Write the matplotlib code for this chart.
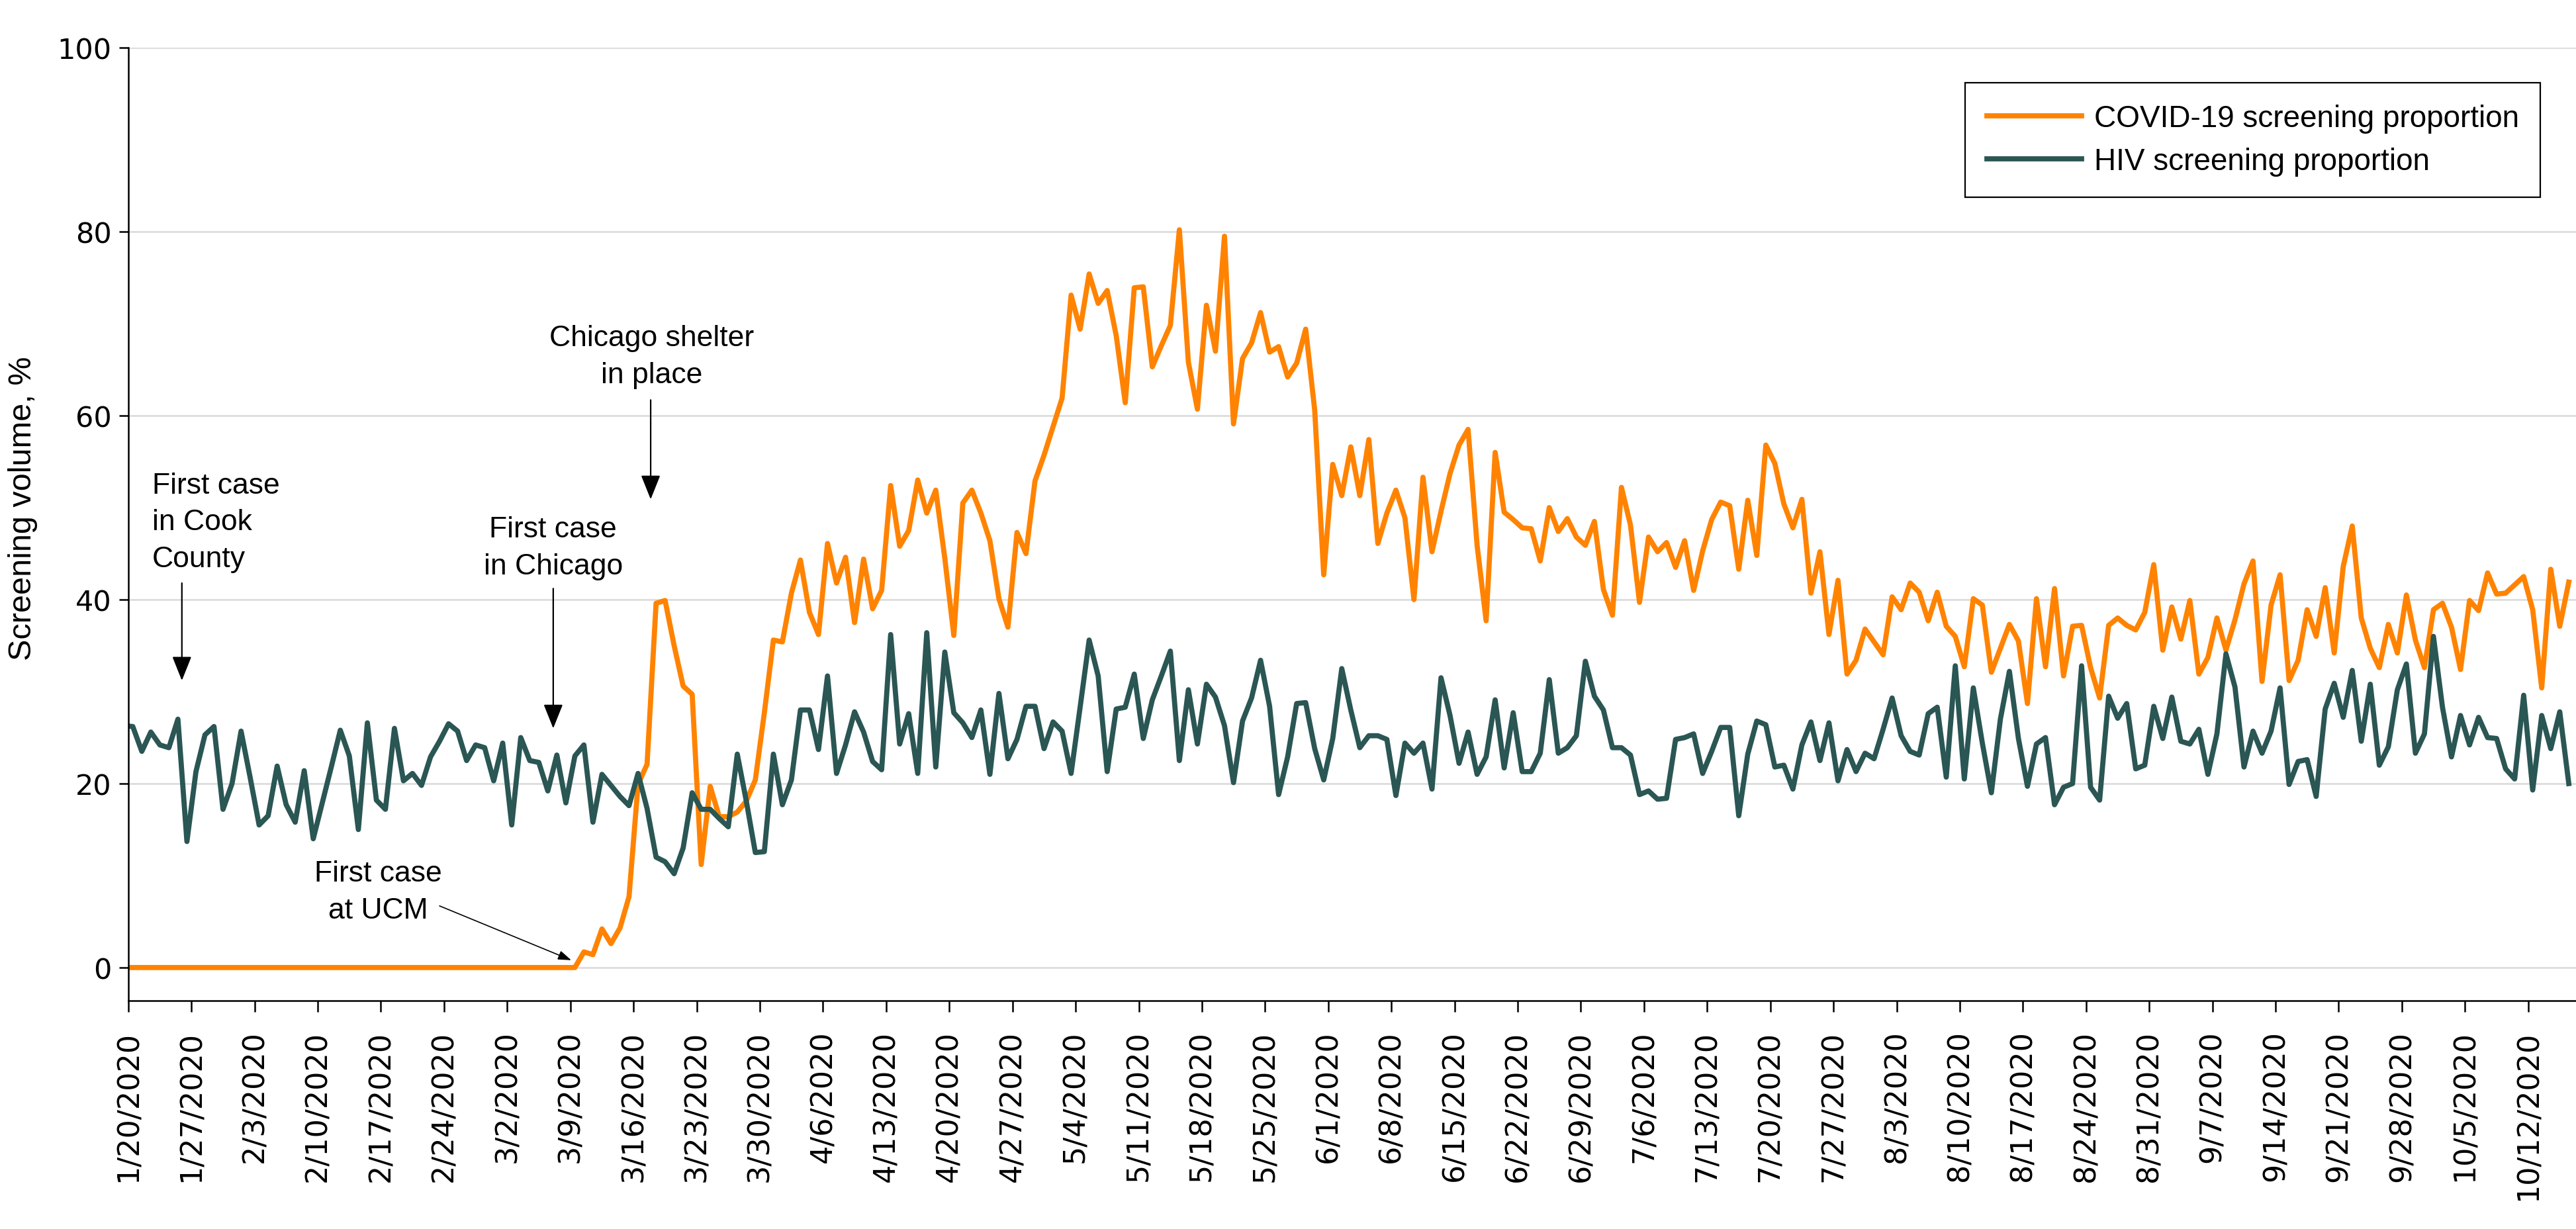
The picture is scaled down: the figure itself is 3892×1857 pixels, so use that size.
import numpy as np
import matplotlib
matplotlib.use("Agg")
import matplotlib.pyplot as plt

plt.rcParams["font.family"] = ["Liberation Sans", "DejaVu Sans"]

# proporcion diaria de cribado (%), un punto por dia; el primero queda
# medio dia antes del eje (recortado), como en la figura original
covid = [
    0.0, 0.0, 0.0, 0.0, 0.0, 0.0, 0.0, 0.0, 0.0, 0.0, 0.0, 0.0, 0.0,
    0.0, 0.0, 0.0, 0.0, 0.0, 0.0, 0.0, 0.0, 0.0, 0.0, 0.0, 0.0, 0.0,
    0.0, 0.0, 0.0, 0.0, 0.0, 0.0, 0.0, 0.0, 0.0, 0.0, 0.0, 0.0, 0.0,
    0.0, 0.0, 0.0, 0.0, 0.0, 0.0, 0.0, 0.0, 0.0, 0.0, 0.0, 0.0,
    1.7, 1.4, 4.2, 2.6, 4.3, 7.7, 19.9, 22.1, 39.6, 39.9, 35.0, 30.6, 29.7,
    11.2, 19.7, 16.4, 16.4, 16.9, 18.1, 20.4, 27.7, 35.6, 35.4, 40.7, 44.3,
    38.6, 36.2, 46.1, 41.8, 44.6, 37.5, 44.4, 39.0, 41.0, 52.4, 45.8, 47.5,
    53.0, 49.4, 51.9, 44.5, 36.1,
    50.5, 51.9, 49.4, 46.4, 40.1, 37.0, 47.3, 45.0, 52.9, 55.7, 58.8, 61.9,
    73.1, 69.4, 75.4, 72.2, 73.6, 68.7, 61.4, 73.9, 74.0, 65.3, 67.6, 69.8,
    80.2, 65.8, 60.7, 72.0, 67.0, 79.5, 59.1, 66.2, 67.9, 71.2, 66.9, 67.5,
    64.2, 65.7, 69.4, 60.6, 42.7, 54.7, 51.3, 56.6, 51.3,
    57.4, 46.1, 49.4, 51.9, 48.9, 40.0, 53.3, 45.2, 49.6, 53.7, 56.8, 58.5,
    45.9, 37.7, 56.0, 49.5, 48.7, 47.8, 47.7, 44.2, 50.0, 47.4, 48.8, 46.8,
    45.9, 48.5, 41.1, 38.3, 52.2, 48.1, 39.7, 46.8, 45.2, 46.2, 43.5, 46.4,
    41.0, 45.3, 48.7, 50.6, 50.2, 43.3, 50.8, 44.8, 56.8, 54.8,
    50.4, 47.8, 50.9, 40.7, 45.2, 36.2, 42.1, 31.9, 33.4, 36.8, 35.4, 34.0,
    40.3, 38.9, 41.8, 40.8, 37.7, 40.8, 37.1, 36.0, 32.7, 40.1, 39.4, 32.1,
    34.7, 37.3, 35.5, 28.7, 40.1, 32.7, 41.2, 31.7, 37.1, 37.2, 32.6, 29.3,
    37.2, 38.0, 37.2, 36.7, 38.6, 43.8, 34.5, 39.2, 35.7,
    39.9, 31.9, 33.7, 38.0, 34.5, 37.8, 41.7, 44.2, 31.1, 39.4, 42.7, 31.2,
    33.4, 38.9, 36.0, 41.3, 34.2, 43.6, 48.0, 38.0, 34.7, 32.6, 37.3, 34.2,
    40.5, 35.6, 32.6, 38.9, 39.6, 37.0, 32.4, 39.9, 38.8, 42.9, 40.6, 40.7,
    41.6, 42.5, 38.9, 30.4, 43.3, 37.1, 41.9,
]

hiv = [
    26.3,
    26.2, 23.5, 25.6, 24.2, 23.9, 27.0, 13.7, 21.3, 25.3, 26.2, 17.2, 20.0,
    25.7, 20.7, 15.5, 16.5, 21.9, 17.7, 15.8, 21.4, 14.0, 17.9, 21.8, 25.8,
    23.0, 15.0, 26.6, 18.2, 17.2, 26.0, 20.3, 21.1, 19.8, 22.9, 24.6, 26.5,
    25.7, 22.5, 24.2, 23.9, 20.3, 24.4, 15.5, 25.0, 22.5, 22.3,
    19.2, 23.1, 17.9, 23.0, 24.2, 15.8, 21.0, 19.8, 18.6, 17.6, 21.1, 17.3,
    12.0, 11.5, 10.2, 13.0, 19.0, 17.2, 17.2, 16.2, 15.3, 23.2, 18.1, 12.5,
    12.6, 23.2, 17.7, 20.4, 28.0, 28.0, 23.7, 31.7, 21.1, 24.2, 27.8, 25.6,
    22.4, 21.5, 36.2, 24.3, 27.6, 21.1, 36.4, 21.8, 34.3, 27.7,
    26.6, 25.0, 28.0, 21.0, 29.8, 22.7, 24.8, 28.4, 28.4, 23.8, 26.7, 25.7,
    21.1, 28.3, 35.6, 31.7, 21.3, 28.1, 28.3, 31.9, 24.9, 29.1, 31.7, 34.4,
    22.5, 30.2, 24.3, 30.8, 29.4, 26.3, 20.1, 26.8, 29.3, 33.4, 28.4, 18.8,
    22.9, 28.7, 28.8, 23.8, 20.4, 24.9, 32.5, 28.0, 23.9,
    25.2, 25.2, 24.8, 18.7, 24.4, 23.3, 24.4, 19.4, 31.5, 27.4, 22.2, 25.6,
    21.0, 22.9, 29.1, 21.7, 27.7, 21.3, 21.3, 23.3, 31.3, 23.3, 23.9, 25.2,
    33.3, 29.5, 28.0, 23.9, 23.9, 23.1, 18.8, 19.2, 18.3, 18.4, 24.8, 25.0,
    25.4, 21.1, 23.5, 26.1, 26.1, 16.5, 23.2, 26.8, 26.4, 21.8,
    22.0, 19.4, 24.2, 26.7, 22.5, 26.6, 20.3, 23.7, 21.3, 23.3, 22.7, 25.9,
    29.3, 25.2, 23.5, 23.1, 27.6, 28.3, 20.7, 32.8, 20.5, 30.4, 24.4, 19.0,
    27.0, 32.2, 24.9, 19.7, 24.3, 25.0, 17.7, 19.6, 20.0, 32.8, 19.6, 18.2,
    29.5, 27.1, 28.7, 21.6, 22.0, 28.4, 24.9, 29.4, 24.6,
    24.3, 25.9, 21.0, 25.4, 34.1, 30.5, 21.8, 25.7, 23.3, 25.7, 30.4, 19.9,
    22.4, 22.6, 18.6, 28.1, 30.9, 27.2, 32.3, 24.6, 30.8, 22.0, 24.0, 30.2,
    33.0, 23.3, 25.4, 36.0, 28.3, 22.9, 27.4, 24.2, 27.2, 25.0, 24.9, 21.6,
    20.5, 29.6, 19.3, 27.4, 23.8, 27.8, 20.0,
]

week_labels = [
    "1/20/2020", "1/27/2020", "2/3/2020", "2/10/2020", "2/17/2020",
    "2/24/2020", "3/2/2020", "3/9/2020", "3/16/2020", "3/23/2020",
    "3/30/2020", "4/6/2020", "4/13/2020", "4/20/2020", "4/27/2020",
    "5/4/2020", "5/11/2020", "5/18/2020", "5/25/2020", "6/1/2020",
    "6/8/2020", "6/15/2020", "6/22/2020", "6/29/2020", "7/6/2020",
    "7/13/2020", "7/20/2020", "7/27/2020", "8/3/2020", "8/10/2020",
    "8/17/2020", "8/24/2020", "8/31/2020", "9/7/2020", "9/14/2020",
    "9/21/2020", "9/28/2020", "10/5/2020", "10/12/2020",
]

ORANGE = "#FF8300"
TEAL = "#2A5654"

days = np.arange(len(covid)) - 0.5   # dias desde el 20/1
week_pos = np.arange(len(week_labels)) * 7

fig = plt.figure(figsize=(19.46, 9.29), dpi=200)
ax = fig.add_axes([0.0498, 0.1857, 0.9502, 0.775])

ax.plot(days, covid, color=ORANGE, lw=2.8, label="COVID-19 screening proportion")
ax.plot(days, hiv, color=TEAL, lw=2.8, label="HIV screening proportion")

ax.set_xlim(0, 271.3)
ax.set_ylim(-3.6, 100)
ax.set_yticks([0, 20, 40, 60, 80, 100])
ax.yaxis.grid(True, color="#d9d9d9", lw=0.9)
ax.set_axisbelow(True)

ax.set_xticks(week_pos)
ax.set_xticklabels(week_labels, rotation=90, fontsize=16, family="DejaVu Sans")
for lab in ax.get_yticklabels():
    lab.set_family("DejaVu Sans")
ax.tick_params(axis="x", direction="out", length=6, width=0.9, pad=10)
ax.tick_params(axis="y", direction="out", length=5, width=0.9, pad=4, labelsize=15.5)

for s in ("top", "right"):
    ax.spines[s].set_visible(False)
for s in ("left", "bottom"):
    ax.spines[s].set_linewidth(0.9)

ax.set_ylabel("Screening volume, %", fontsize=17.5)
ax.yaxis.set_label_coords(-0.037, 0.517)

# anotaciones
arrow = dict(arrowstyle="-|>,head_length=0.95,head_width=0.38", color="black",
             lw=0.8, shrinkA=0, shrinkB=0, mutation_scale=12)
ax.text(2.64, 53.9, "First case\nin Cook\nCounty", fontsize=16, ha="left", va="top",
        linespacing=1.45)
ax.annotate("", xy=(5.94, 31.2), xytext=(5.94, 41.8), arrowprops=arrow)

ax.text(47.1, 49.1, "First case\nin Chicago", fontsize=16, ha="center", va="top",
        linespacing=1.45)
ax.annotate("", xy=(47.1, 26.0), xytext=(47.1, 41.2), arrowprops=arrow)

ax.text(58.0, 69.9, "Chicago shelter\nin place", fontsize=16, ha="center", va="top",
        linespacing=1.45)
ax.annotate("", xy=(57.9, 50.9), xytext=(57.9, 61.7), arrowprops=arrow)

ax.text(27.7, 11.7, "First case\nat UCM", fontsize=16, ha="center", va="top",
        linespacing=1.45)
ax.annotate("", xy=(49.1, 0.8), xytext=(34.5, 6.7),
            arrowprops=dict(arrowstyle="-|>,head_length=1.0,head_width=0.35",
                            color="black", lw=0.6, shrinkA=0, shrinkB=0,
                            mutation_scale=6))

leg = ax.legend(loc="upper right", bbox_to_anchor=(0.9854, 0.9632), borderaxespad=0,
                fontsize=16.5, handlelength=3.14, handletextpad=0.4, borderpad=0.7,
                labelspacing=0.45, fancybox=False, framealpha=1)
leg.get_frame().set_edgecolor("black")
leg.get_frame().set_linewidth(0.8)

fig.savefig("out.png", dpi=200)
